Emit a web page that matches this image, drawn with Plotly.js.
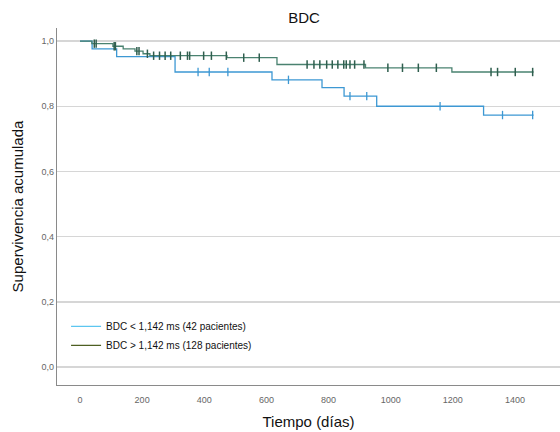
<!DOCTYPE html>
<html>
<head>
<meta charset="utf-8">
<script src="https://cdn.plot.ly/plotly-3.0.1.min.js"></script>
<style>html,body{margin:0;padding:0;background:#fff}#chart{width:560px;height:432px}</style>
</head>
<body>
<div id="chart"></div>
<script>
// Kaplan-Meier step data
const blueTimes = [0, 39, 118, 306, 618, 779, 850, 955, 1299, 1460];
const blueSurv  = [1.0, 0.976, 0.952, 0.905, 0.881, 0.857, 0.831, 0.800, 0.773, 0.773];
const blueCensor = [380, 416, 476, 671, 869, 923, 1159, 1360, 1457];

const greenTimes = [0, 38, 106, 139, 177, 203, 225, 473, 634, 919, 1197, 1460];
const greenSurv  = [1.0, 0.992, 0.984, 0.976, 0.969, 0.961, 0.955, 0.949, 0.928, 0.918, 0.905, 0.905];
const greenCensor = [46, 52, 110, 114, 183, 190, 217, 237, 256, 274, 292, 323, 346, 353, 398, 423, 471,
                     527, 577, 731, 753, 772, 794, 812, 830, 849, 857, 869, 884, 914,
                     991, 1038, 1089, 1147, 1323, 1344, 1401, 1457];

const legendNames = ['BDC < 1,142 ms (42 pacientes)', 'BDC > 1,142 ms (128 pacientes)'];
const yTickVals = [0, 0.2, 0.4, 0.6, 0.8, 1.0];
const yTickText = ['0,0', '0,2', '0,4', '0,6', '0,8', '1,0'];
const xTickVals = [0, 200, 400, 600, 800, 1000, 1200, 1400];

function stepAt(times, surv, t) {
  let v = surv[0];
  for (let i = 0; i < times.length; i++) { if (times[i] <= t) v = surv[i]; }
  return v;
}

const blueColor = '#3d98d3', greenColor = '#4a8270';

const traces = [
  {x: blueTimes, y: blueSurv, mode: 'lines', line: {shape: 'hv', color: blueColor, width: 1.3}, showlegend: false, hoverinfo: 'skip'},
  {x: blueCensor, y: blueCensor.map(t => stepAt(blueTimes, blueSurv, t)), mode: 'markers',
   marker: {symbol: 'line-ns', size: 6, line: {color: blueColor, width: 1.3}}, showlegend: false},
  {x: greenTimes, y: greenSurv, mode: 'lines', line: {shape: 'hv', color: greenColor, width: 1.3}, showlegend: false, hoverinfo: 'skip'},
  {x: greenCensor, y: greenCensor.map(t => stepAt(greenTimes, greenSurv, t)), mode: 'markers',
   marker: {symbol: 'line-ns', size: 6, line: {color: '#2f5e4e', width: 1.5}}, showlegend: false},
  {x: [null], y: [null], mode: 'lines', name: legendNames[0], line: {color: '#5cc6f0', width: 1.3}},
  {x: [null], y: [null], mode: 'lines', name: legendNames[1], line: {color: '#4e5f22', width: 1.3}}
];

const layout = {
  width: 560, height: 432,
  margin: {l: 57, r: 0, t: 28, b: 47},
  paper_bgcolor: '#fff', plot_bgcolor: '#fff',
  font: {family: 'Liberation Sans, Arial, sans-serif', color: '#222'},
  title: {text: 'BDC', x: 0.543, xanchor: 'center', y: 0.96, yanchor: 'middle', font: {size: 15, color: '#111'}},
  xaxis: {
    range: [-74, 1545], tickvals: xTickVals, ticktext: xTickVals.map(String),
    showgrid: false, zeroline: false, showline: true, linecolor: '#8a8a8a', linewidth: 1.2,
    ticks: '', tickfont: {size: 9, color: '#666'}, ticklabelstandoff: 6,
    title: {text: 'Tiempo (días)', font: {size: 15, color: '#111'}, standoff: 12}
  },
  yaxis: {
    range: [-0.055, 1.04], tickvals: yTickVals, ticktext: yTickText,
    showgrid: true, gridcolor: '#d6d6d6', gridwidth: 1.5, zeroline: false,
    showline: true, linecolor: '#8a8a8a', linewidth: 1.2,
    ticks: '', tickfont: {size: 9, color: '#666'},
    title: {text: 'Supervivencia acumulada', font: {size: 15, color: '#111'}, standoff: 14}
  },
  legend: {x: 0.018, y: 0.205, xanchor: 'left', yanchor: 'top', bgcolor: 'rgba(0,0,0,0)',
           font: {size: 10, color: '#111'}, tracegroupgap: 0, itemwidth: 30},
  showlegend: true
};

Plotly.newPlot('chart', traces, layout, {displayModeBar: false, staticPlot: true});
</script>
</body>
</html>
